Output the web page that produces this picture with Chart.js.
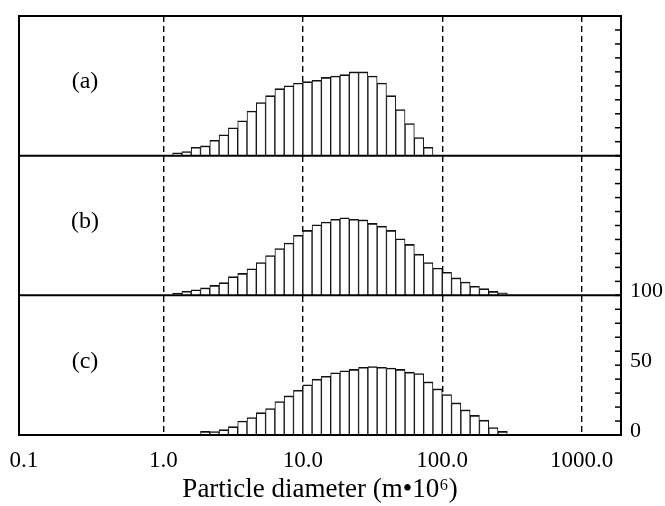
<!DOCTYPE html>
<html>
<head>
<meta charset="utf-8">
<title>Particle size distribution</title>
<script src="https://cdn.jsdelivr.net/npm/chart.js@4.4.1/dist/chart.umd.min.js"></script>
<style>
  html, body { margin: 0; padding: 0; background: #fff; }
  #wrap { width: 665px; height: 506px; }
</style>
</head>
<body>
<div id="wrap"><canvas id="chart"></canvas></div>
<script>
// bin centres (particle diameter, m*10^6), 15 bins per decade
const binCentres = [1.080, 1.259, 1.468, 1.711, 1.995, 2.326, 2.712, 3.162, 3.687, 4.299,
  5.012, 5.843, 6.813, 7.943, 9.261, 10.80, 12.59, 14.68, 17.11, 19.95,
  23.26, 27.12, 31.62, 36.87, 42.99, 50.12, 58.43, 68.13, 79.43, 92.61,
  108.0, 125.9, 146.8, 171.1, 199.5, 232.6, 271.2];

// bar heights for each panel (same scale 0..100 on each)
const sampleA = [null, 2, 3, 6, 7, 11, 15, 20, 25, 32,
  38, 43, 48, 50, 52, 53, 54, 56, 57, 58,
  60, 60, 57, 52, 43, 33, 23, 13, 6, null,
  null, null, null, null, null, null, null];
const sampleB = [null, 1.6, 2.9, 4, 5.3, 7.1, 9.1, 13.4, 15.7, 19,
  23.5, 28.5, 33.5, 37.5, 43, 46.5, 50.5, 52.5, 54.5, 55.5,
  54.5, 54, 51.5, 49.5, 46.5, 40.5, 36.5, 29.5, 23.5, 19.5,
  16.5, 12.5, 9.5, 6.5, 4.8, 2.8, 1.8];
const sampleC = [null, null, null, null, 2.6, 2.5, 3.8, 6, 10, 12.5,
  16, 19, 24, 28, 32, 36, 40, 42, 44.5, 46,
  47, 48.5, 49, 48.5, 48, 47, 45, 44, 38, 33,
  29, 23, 18, 14, 10.6, 5.4, 2.6];

const panelLabels = ['(a)', '(b)', '(c)'];
const xTickValues = [0.1, 1, 10, 100, 1000];
const xTickLabels = ['0.1', '1.0', '10.0', '100.0', '1000.0'];
const yTickLabels = { 0: '0', 50: '50', 100: '100' };

const serif = "'Liberation Serif', 'Times New Roman', serif";

// frame, panel dividers, inward ticks and panel letters
const panelDecor = {
  id: 'panelDecor',
  afterDraw(chart) {
    const { ctx, chartArea: a } = chart;
    const ids = ['ya', 'yb', 'yc'];
    ctx.save();
    ctx.strokeStyle = '#000';
    ctx.lineWidth = 1.5;
    ids.forEach(id => {
      const s = chart.scales[id];
      s.ticks.forEach(t => {
        const y = s.getPixelForValue(t.value);
        ctx.beginPath();
        ctx.moveTo(a.right - 6, y);
        ctx.lineTo(a.right, y);
        ctx.stroke();
      });
    });
    ctx.lineWidth = 2;
    ctx.strokeRect(a.left, a.top, a.right - a.left, a.bottom - a.top);
    ['ya', 'yb'].forEach(id => {
      const y = chart.scales[id].bottom;
      ctx.beginPath();
      ctx.moveTo(a.left, y);
      ctx.lineTo(a.right, y);
      ctx.stroke();
    });
    ctx.fillStyle = '#000';
    ctx.font = '24px ' + serif;
    ctx.textAlign = 'center';
    ctx.textBaseline = 'middle';
    ids.forEach((id, i) => {
      ctx.fillText(panelLabels[i], a.left + 66, chart.scales[id].top + 66);
    });
    ctx.restore();
  }
};

function makeSet(label, values, axis) {
  return {
    label: label,
    data: binCentres.map((x, i) => ({ x: x, y: values[i] })),
    yAxisID: axis,
    grouped: false,
    backgroundColor: '#fff',
    borderColor: '#111',
    borderWidth: { top: 1.6, left: 1, right: 1, bottom: 0 },
    borderSkipped: false,
    barPercentage: 1,
    categoryPercentage: 1
  };
}

function panelAxis(showLabels) {
  return {
    type: 'linear',
    position: 'right',
    stack: 'panels',
    stackWeight: 1,
    min: 0,
    max: 100,
    grid: { display: false },
    border: { display: false },
    ticks: {
      display: showLabels,
      stepSize: 10,
      autoSkip: false,
      padding: 1,
      labelOffset: -4,
      color: '#000',
      font: { family: serif, size: 22 },
      callback: v => yTickLabels[v] ?? ''
    },
    afterFit: s => { s.width = 44; }
  };
}

new Chart(document.getElementById('chart'), {
  type: 'bar',
  data: {
    datasets: [
      makeSet('(a)', sampleA, 'ya'),
      makeSet('(b)', sampleB, 'yb'),
      makeSet('(c)', sampleC, 'yc')
    ]
  },
  options: {
    responsive: true,
    maintainAspectRatio: false,
    animation: false,
    layout: { padding: { left: 19, top: 16, right: 0, bottom: 0 } },
    plugins: { legend: { display: false }, tooltip: { enabled: false } },
    scales: {
      x: {
        type: 'logarithmic',
        position: 'bottom',
        min: 0.0923,
        max: 1913,
        offset: false,
        afterBuildTicks: s => { s.ticks = xTickValues.map(v => ({ value: v })); },
        afterFit: s => { s.height = 71; s.paddingLeft = 0; s.paddingRight = 0; },
        grid: {
          offset: false,
          drawTicks: false,
          lineWidth: 1.4,
          color: c => (c.tick && c.tick.value >= 1 ? '#000' : 'rgba(0,0,0,0)')
        },
        border: { display: false, dash: [6, 4] },
        ticks: {
          autoSkip: false,
          maxRotation: 0,
          padding: 12,
          color: '#000',
          font: { family: serif, size: 23 },
          callback: (v, i) => xTickLabels[i]
        },
        title: {
          display: true,
          text: 'Particle diameter (m\u202210\u2076)',
          color: '#000',
          font: { family: serif, size: 27 },
          padding: { top: 0, bottom: 0 }
        }
      },
      ya: panelAxis(false),
      yb: panelAxis(false),
      yc: panelAxis(true)
    }
  },
  plugins: [panelDecor]
});
</script>
</body>
</html>
